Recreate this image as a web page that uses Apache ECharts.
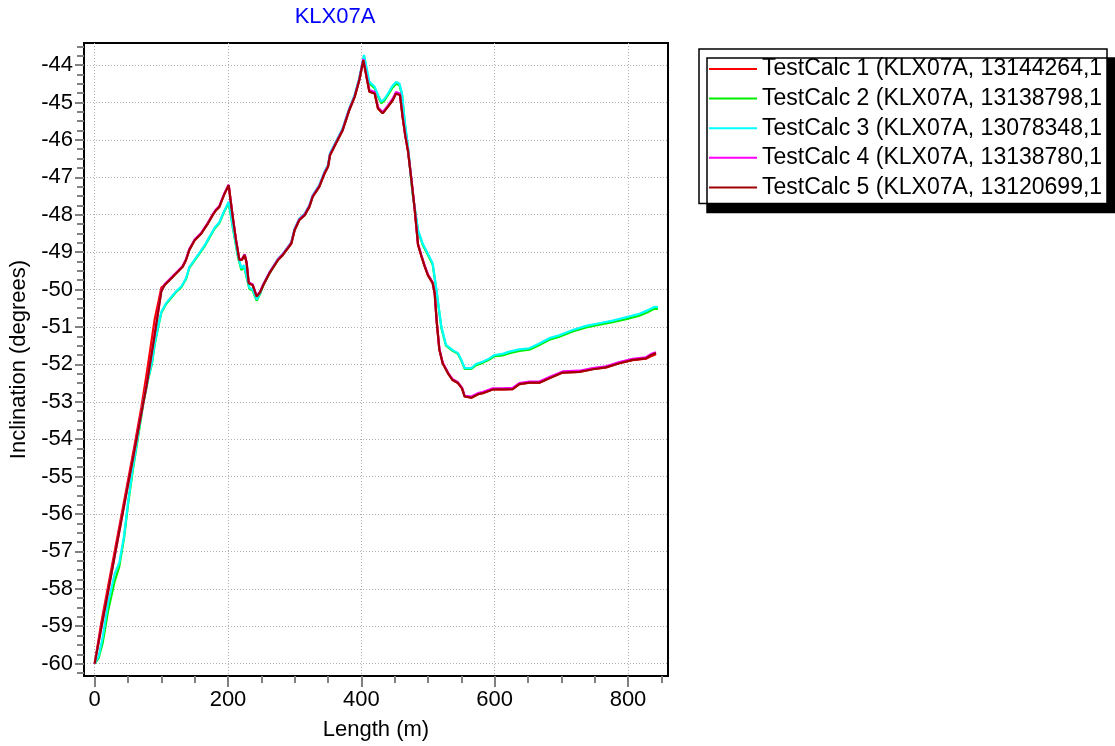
<!DOCTYPE html>
<html>
<head>
<meta charset="utf-8">
<title>KLX07A</title>
<script src="https://cdn.jsdelivr.net/npm/echarts@6/dist/echarts.min.js"></script>
<style>
  html, body { margin: 0; padding: 0; background: #fff; }
  #chart { width: 1115px; height: 746px; }
</style>
</head>
<body>
<div id="chart"></div>
<script>
// Borehole KLX07A: inclination along the hole for five test calculations.

var seriesNames = [
  'TestCalc 1 (KLX07A, 13144264,1',
  'TestCalc 2 (KLX07A, 13138798,1',
  'TestCalc 3 (KLX07A, 13078348,1',
  'TestCalc 4 (KLX07A, 13138780,1',
  'TestCalc 5 (KLX07A, 13120699,1'
];
var seriesColors = ['#ff0000', '#00ee00', '#00ffff', '#ff00ff', '#a00000'];

// Length (m) stations for calculations 1, 4 and 5
var lengthA = [0, 10, 20, 30, 40, 50, 60, 70, 78, 90, 100, 105, 112, 122, 132, 137, 142, 150, 160, 170,
  177, 182, 187, 190, 195, 201, 207, 212, 217, 221, 225, 228, 231, 237, 243, 248, 253, 262, 275, 282,
  295, 300, 307, 315, 322, 327, 337, 345, 350, 353, 362, 372, 382, 390, 397, 403, 412, 420, 425, 432,
  440, 447, 452, 458, 462, 466, 470, 475, 480, 485, 490, 495, 500, 507, 510, 513, 517, 522, 530, 537,
  545, 551, 555, 565, 575, 582, 597, 612, 627, 637, 652, 667, 682, 702, 727, 747, 767, 787, 807, 827,
  835, 842];

// Length (m) stations for calculations 2 and 3
var lengthB = [0, 6, 12, 20, 30, 37, 44, 50, 57, 65, 73, 80, 86, 90, 95, 100, 107, 115, 122, 130,
  137, 142, 150, 158, 165, 172, 180, 187, 193, 201, 207, 215, 220, 224, 226, 232, 237, 243, 248, 253,
  262, 275, 282, 295, 300, 307, 315, 322, 327, 337, 345, 350, 353, 362, 372, 382, 390, 397, 404, 412,
  420, 425, 430, 435, 440, 447, 452, 457, 461, 465, 470, 477, 485, 492, 502, 507, 512, 520, 527, 537,
  545, 550, 555, 565, 572, 582, 592, 600, 612, 622, 637, 652, 667, 682, 697, 717, 737, 757, 777, 797,
  817, 830, 840, 845];

// Inclination (degrees)
var incl1 = [-60, -58.9, -57.95, -57.0, -56.05, -55.1, -54.15, -53.15, -52.25, -50.8, -49.95, -49.88, -49.75, -49.57, -49.39, -49.21, -48.94, -48.68, -48.5, -48.23,
  -48.01, -47.88, -47.79, -47.65, -47.43, -47.21, -48.05, -48.68, -49.21, -49.2, -49.08, -49.3, -49.83, -49.88, -50.19, -50.08, -49.88, -49.57, -49.21, -49.08,
  -48.77, -48.41, -48.14, -48.01, -47.79, -47.52, -47.25, -46.89, -46.72, -46.41, -46.09, -45.74, -45.2, -44.85, -44.4, -43.87, -44.71, -44.76, -45.16, -45.29,
  -45.11, -44.94, -44.76, -44.8, -45.4, -45.9, -46.3, -47.05, -47.85, -48.8, -49.1, -49.38, -49.62, -49.83, -50.1, -50.85, -51.6, -51.97, -52.24, -52.42,
  -52.5, -52.64, -52.86, -52.89, -52.8, -52.77, -52.67, -52.67, -52.66, -52.53, -52.49, -52.49, -52.37, -52.22, -52.2, -52.13, -52.08, -51.97, -51.89, -51.85,
  -51.78, -51.73];

var incl2 = [-60, -59.85, -59.45, -58.6, -57.8, -57.4, -56.65, -55.75, -54.85, -53.95, -53.05, -52.42, -51.97, -51.47, -51.02, -50.62, -50.39, -50.22, -50.07, -49.94,
  -49.72, -49.42, -49.22, -49.02, -48.84, -48.62, -48.37, -48.22, -47.97, -47.68, -48.32, -49.13, -49.48, -49.38, -49.43, -49.98, -50.03, -50.3, -50.12, -49.88,
  -49.57, -49.2, -49.07, -48.75, -48.39, -48.12, -47.99, -47.77, -47.5, -47.22, -46.86, -46.69, -46.38, -46.06, -45.71, -45.17, -44.82, -44.36, -43.76, -44.49,
  -44.62, -44.84, -45.02, -44.94, -44.8, -44.6, -44.5, -44.53, -44.79, -45.52, -46.22, -47.45, -48.43, -48.8, -49.15, -49.33, -49.95, -51.02, -51.5, -51.64,
  -51.72, -51.9, -52.12, -52.12, -52.02, -51.96, -51.87, -51.78, -51.76, -51.7, -51.64, -51.61, -51.48, -51.34, -51.26, -51.12, -51.01, -50.94, -50.87, -50.79,
  -50.7, -50.6, -50.51, -50.52];

var incl3 = [-60, -59.8, -59.3, -58.4, -57.6, -57.3, -56.6, -55.7, -54.8, -53.9, -53.0, -52.4, -51.95, -51.45, -51.0, -50.6, -50.37, -50.2, -50.05, -49.92,
  -49.7, -49.4, -49.2, -49.0, -48.82, -48.6, -48.35, -48.2, -47.95, -47.65, -48.3, -49.1, -49.43, -49.35, -49.4, -49.95, -50.0, -50.27, -50.1, -49.86,
  -49.55, -49.18, -49.05, -48.73, -48.37, -48.1, -47.97, -47.75, -47.48, -47.2, -46.84, -46.67, -46.36, -46.04, -45.69, -45.15, -44.8, -44.34, -43.73, -44.45,
  -44.58, -44.8, -44.98, -44.9, -44.76, -44.55, -44.45, -44.49, -44.76, -45.5, -46.2, -47.43, -48.41, -48.77, -49.12, -49.3, -49.92, -50.99, -51.48, -51.62,
  -51.7, -51.88, -52.1, -52.1, -51.99, -51.93, -51.84, -51.75, -51.72, -51.66, -51.6, -51.57, -51.44, -51.3, -51.22, -51.08, -50.97, -50.9, -50.83, -50.74,
  -50.65, -50.55, -50.46, -50.47];

var incl4 = [-60, -59.03, -58.08, -57.12, -56.17, -55.21, -54.26, -53.3, -52.54, -51.2, -50.03, -49.86, -49.73, -49.55, -49.37, -49.19, -48.92, -48.66, -48.48, -48.21,
  -47.99, -47.86, -47.77, -47.63, -47.41, -47.2, -48.04, -48.67, -49.2, -49.18, -49.06, -49.28, -49.81, -49.86, -50.17, -50.06, -49.86, -49.55, -49.19, -49.06,
  -48.75, -48.39, -48.12, -47.99, -47.77, -47.5, -47.23, -46.87, -46.7, -46.39, -46.07, -45.72, -45.18, -44.83, -44.38, -43.84, -44.67, -44.72, -45.13, -45.26,
  -45.08, -44.9, -44.72, -44.76, -45.37, -45.88, -46.28, -47.03, -47.83, -48.78, -49.08, -49.36, -49.6, -49.81, -50.08, -50.83, -51.58, -51.95, -52.22, -52.4,
  -52.48, -52.62, -52.84, -52.86, -52.77, -52.74, -52.64, -52.64, -52.63, -52.5, -52.46, -52.46, -52.34, -52.19, -52.17, -52.1, -52.05, -51.94, -51.85, -51.81,
  -51.72, -51.68];

var incl5 = [-60, -59.04, -58.09, -57.13, -56.18, -55.22, -54.27, -53.31, -52.55, -51.21, -50.05, -49.88, -49.75, -49.57, -49.39, -49.21, -48.94, -48.68, -48.5, -48.23,
  -48.01, -47.88, -47.79, -47.65, -47.43, -47.21, -48.05, -48.68, -49.21, -49.2, -49.08, -49.3, -49.83, -49.88, -50.19, -50.08, -49.88, -49.57, -49.21, -49.08,
  -48.77, -48.41, -48.14, -48.01, -47.79, -47.52, -47.25, -46.89, -46.72, -46.41, -46.09, -45.74, -45.2, -44.85, -44.4, -43.87, -44.71, -44.76, -45.16, -45.29,
  -45.11, -44.94, -44.76, -44.8, -45.4, -45.9, -46.3, -47.05, -47.85, -48.8, -49.1, -49.38, -49.62, -49.83, -50.1, -50.85, -51.6, -51.97, -52.24, -52.42,
  -52.5, -52.64, -52.86, -52.89, -52.8, -52.77, -52.67, -52.67, -52.66, -52.53, -52.49, -52.49, -52.37, -52.22, -52.2, -52.13, -52.08, -51.97, -51.88, -51.84,
  -51.75, -51.7];

// Axis tick labels
var xTickLabels = [0, 200, 400, 600, 800];
var yTickLabels = [-60, -59, -58, -57, -56, -55, -54, -53, -52, -51, -50, -49, -48, -47, -46, -45, -44];

// Minor ticks: every 50 m along the hole, every 0.25 degrees in inclination
var xMinor = [];
for (var m = 50; m <= 850; m += 50) { if (m % 200 !== 0) xMinor.push(m); }
var yMinor = [];
for (var q = -241; q <= -174; q++) { if (q % 4 !== 0) yMinor.push(q / 4); }

function pairs(xs, ys) {
  var out = [];
  for (var i = 0; i < xs.length; i++) out.push([xs[i], ys[i]]);
  return out;
}

var FONT = '"Liberation Sans", Arial, Helvetica, sans-serif';
var X_MIN = -16, X_MAX = 860, Y_MIN = -60.33, Y_MAX = -43.41;

var lineData = [
  pairs(lengthA, incl1),
  pairs(lengthB, incl2),
  pairs(lengthB, incl3),
  pairs(lengthA, incl4),
  pairs(lengthA, incl5)
];

var series = lineData.map(function (d, i) {
  return {
    name: seriesNames[i],
    type: 'line',
    data: d,
    xAxisIndex: 0,
    yAxisIndex: 0,
    showSymbol: false,
    symbol: 'none',
    smooth: false,
    animation: false,
    lineStyle: { color: seriesColors[i], width: 2.2 },
    itemStyle: { color: seriesColors[i] },
    z: 3 + i
  };
});

var chart = echarts.init(document.getElementById('chart'), null, { renderer: 'canvas' });

chart.setOption({
  animation: false,
  backgroundColor: '#ffffff',
  textStyle: { fontFamily: FONT },
  color: seriesColors,
  title: {
    text: 'KLX07A',
    left: 335,
    top: 6,
    padding: 0,
    textAlign: 'center',
    textStyle: { color: '#0000ff', fontSize: 22, fontWeight: 'normal', fontFamily: FONT }
  },
  legend: {
    orient: 'vertical',
    left: 699,
    top: 49,
    padding: [8, 2, 4, 10],
    itemGap: 5.6,
    itemWidth: 48,
    itemHeight: 2,
    icon: 'rect',
    backgroundColor: '#ffffff',
    borderColor: '#000000',
    borderWidth: 1.5,
    borderRadius: 0,
    shadowColor: '#000000',
    shadowBlur: 0,
    shadowOffsetX: 8,
    shadowOffsetY: 9,
    selectedMode: false,
    data: seriesNames,
    textStyle: {
      color: '#000000', fontSize: 23, fontFamily: FONT,
      lineHeight: 24, width: 343, overflow: 'truncate', ellipsis: ''
    }
  },
  grid: {
    left: 84, right: 447, top: 43, bottom: 70,
    show: true, borderColor: '#000000', borderWidth: 2, backgroundColor: '#ffffff'
  },
  xAxis: [
    {
      type: 'value', position: 'bottom', min: X_MIN, max: X_MAX,
      name: 'Length (m)', nameLocation: 'middle', nameGap: 43,
      nameTextStyle: { color: '#000000', fontSize: 22, fontFamily: FONT },
      axisLine: { show: true, onZero: false, lineStyle: { color: '#000000', width: 2 } },
      axisTick: { show: true, inside: false, length: 11, customValues: xTickLabels,
        lineStyle: { color: '#808080', width: 2 } },
      axisLabel: { show: true, margin: 13, customValues: xTickLabels, color: '#000000',
        fontSize: 22, fontFamily: FONT },
      splitLine: { show: true, lineStyle: { color: '#b0b0b0', width: 1, type: [1, 2] } }
    },
    {
      type: 'value', position: 'bottom', min: X_MIN, max: X_MAX,
      axisLine: { show: false, onZero: false },
      axisTick: { show: true, inside: false, length: 7, customValues: xMinor,
        lineStyle: { color: '#808080', width: 2 } },
      axisLabel: { show: false },
      splitLine: { show: false }
    }
  ],
  yAxis: [
    {
      type: 'value', position: 'left', min: Y_MIN, max: Y_MAX,
      name: 'Inclination (degrees)', nameLocation: 'middle', nameGap: 48,
      nameTextStyle: { color: '#000000', fontSize: 22, fontFamily: FONT },
      axisLine: { show: true, onZero: false, lineStyle: { color: '#000000', width: 2 } },
      axisTick: { show: true, inside: false, length: 9, customValues: yTickLabels,
        lineStyle: { color: '#808080', width: 2 } },
      axisLabel: { show: true, margin: 11, customValues: yTickLabels, color: '#000000',
        fontSize: 22, fontFamily: FONT },
      splitLine: { show: true, lineStyle: { color: '#b0b0b0', width: 1, type: [1, 2] } }
    },
    {
      type: 'value', position: 'left', min: Y_MIN, max: Y_MAX,
      axisLine: { show: false, onZero: false },
      axisTick: { show: true, inside: false, length: 7, customValues: yMinor,
        lineStyle: { color: '#808080', width: 2 } },
      axisLabel: { show: false },
      splitLine: { show: false }
    }
  ],
  series: series
});
</script>
</body>
</html>
